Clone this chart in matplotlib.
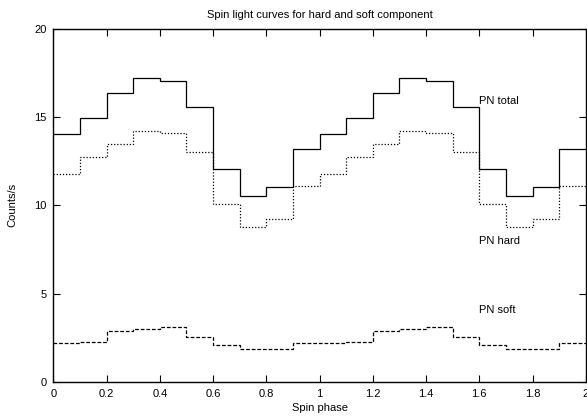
import numpy as np
import matplotlib
matplotlib.use("Agg")
import matplotlib.pyplot as plt

plt.rcParams['font.family'] = ['Liberation Sans', 'DejaVu Sans']

# Spin-phase bins (one cycle, repeated twice)
phase_edges = np.round(np.arange(0, 2.0001, 0.1), 2)
total_cycle = [14.06, 14.98, 16.37, 17.20, 17.05, 15.58, 12.06, 10.55, 11.02, 13.22]
hard_cycle = [11.78, 12.72, 13.49, 14.24, 14.11, 13.04, 10.08, 8.79, 9.23, 11.10]
soft_cycle = [2.21, 2.25, 2.86, 2.99, 3.08, 2.53, 2.06, 1.84, 1.87, 2.17]

total = total_cycle + total_cycle
hard = hard_cycle + hard_cycle
soft = soft_cycle + soft_cycle

xticks = [0, 0.2, 0.4, 0.6, 0.8, 1, 1.2, 1.4, 1.6, 1.8, 2]
xticklabels = ["0", "0.2", "0.4", "0.6", "0.8", "1", "1.2", "1.4", "1.6", "1.8", "2"]
yticks = [0, 5, 10, 15, 20]

fig = plt.figure(figsize=(5.87, 4.19), dpi=100)
ax = fig.add_axes([0.0908, 0.089, 0.9072, 0.8418])

ax.stairs(total, phase_edges, baseline=None, color='black', linewidth=0.9, linestyle='-')
ax.stairs(hard, phase_edges, baseline=None, color='black', linewidth=0.9, linestyle=(0, (1, 1.5)))
ax.stairs(soft, phase_edges, baseline=None, color='black', linewidth=0.9, linestyle=(0, (3, 1.5)))

ax.text(1.6, 15.9, "PN total", fontsize=8, va='center', ha='left')
ax.text(1.6, 8.0, "PN hard", fontsize=8, va='center', ha='left')
ax.text(1.6, 4.06, "PN soft", fontsize=8, va='center', ha='left')

ax.set_xlim(0, 2)
ax.set_ylim(0, 20)
ax.set_xticks(xticks)
ax.set_xticklabels(xticklabels)
ax.set_yticks(yticks)
ax.tick_params(direction='in', length=5, width=0.8, top=True, right=True, labelsize=8, pad=5)
for s in ax.spines.values():
    s.set_linewidth(1.0)

ax.set_xlabel("Spin phase", fontsize=8, labelpad=3)
ax.set_ylabel("Counts/s", fontsize=8, labelpad=12)
ax.set_title("Spin light curves for hard and soft component", fontsize=8, pad=8)

fig.savefig("out.png", dpi=100)
